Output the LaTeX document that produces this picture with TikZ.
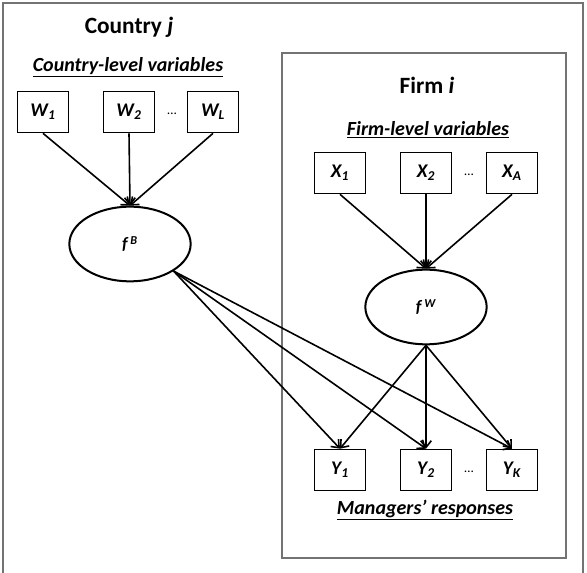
\documentclass[tikz,border=0pt]{standalone}
\usepackage{fontspec}
\setmainfont{Carlito}
\usetikzlibrary{shapes.geometric, arrows.meta}
\tikzset{
    var/.style={draw, line width=1pt, minimum width=38pt, minimum height=31pt, inner sep=0pt, font=\fontsize{14.5}{16}\selectfont\bfseries\itshape},
    factor/.style={draw, ellipse, line width=1.5pt, minimum width=91pt, minimum height=56pt, inner sep=0pt, font=\fontsize{13}{15}\selectfont\bfseries\itshape},
    frame/.style={draw=black!55, line width=1.3pt},
    heading/.style={font=\fontsize{17.5}{20}\selectfont\bfseries},
    group/.style={font=\fontsize{15}{18}\selectfont\bfseries\itshape},
    edge/.style={-{Straight Barb[length=5pt, width=8pt]}, line width=1.2pt},
}
\begin{document}
\begin{tikzpicture}[x=0.75pt, y=-0.75pt]
    \useasboundingbox (0,0) rectangle (587,573);
    % outer and inner frames
    \draw[frame] (3,573)--(3,3)--(583,3)--(583,573);
    \draw[frame] (282,53) rectangle (566,558);
    % country level
    \node[heading] (country) at (129,27) {Country \textit{j}};
    \node[group] (cvars) at (128,67) {\underline{Country-level variables}};
    \node[var] (W1) at (43,112) {W\textsubscript{1}};
    \node[var] (W2) at (129,112) {W\textsubscript{2}};
    \node[var] (WL) at (213,112) {W\textsubscript{L}};
    \node (wdots) at (172,114) {\dots};
    \node[factor] (fB) at (130,244) {f\,\textsuperscript{B}};
    % firm level
    \node[heading] (firm) at (427,85) {Firm \textit{i}};
    \node[group] (fvars) at (428,130) {\underline{Firm-level variables}};
    \node[var] (X1) at (340,173) {X\textsubscript{1}};
    \node[var] (X2) at (426,173) {X\textsubscript{2}};
    \node[var] (XA) at (512,173) {X\textsubscript{A}};
    \node (xdots) at (469,175) {\dots};
    \node[factor] (fW) at (426,307) {f\,\textsuperscript{W}};
    % responses
    \node[var] (Y1) at (340,470) {Y\textsubscript{1}};
    \node[var] (Y2) at (426,470) {Y\textsubscript{2}};
    \node[var] (YK) at (512,470) {Y\textsubscript{K}};
    \node (ydots) at (469,472) {\dots};
    \node[group] (resp) at (425,510) {\underline{Managers’ responses}};
    % arrows
    \foreach \v in {W1,W2,WL}
    {
        \draw[edge] (\v.south)--(fB.north);
    }
    \foreach \v in {X1,X2,XA}
    {
        \draw[edge] (\v.south)--(fW.north);
    }
    \foreach \y in {Y1,Y2,YK}
    {
        \draw[edge] (fB.south east)--(\y.north);
        \draw[edge] (fW.south)--(\y.north);
    }
\end{tikzpicture}
\end{document}
